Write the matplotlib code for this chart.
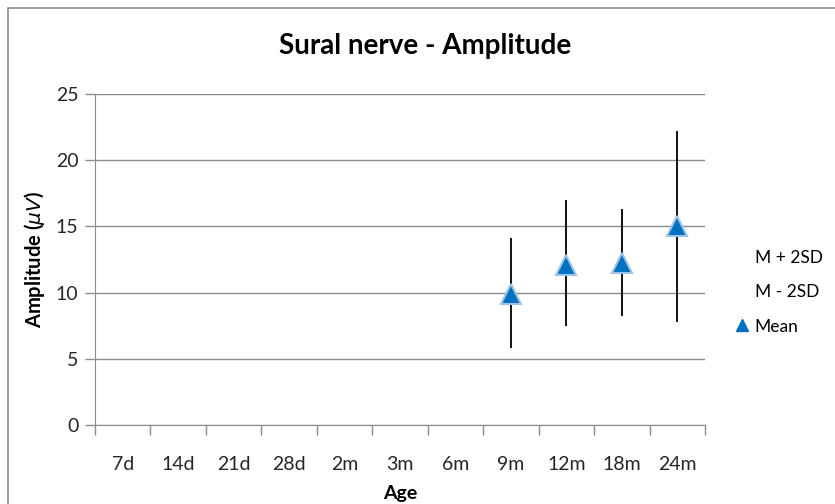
import numpy as np
import matplotlib.pyplot as plt
from matplotlib.lines import Line2D
from matplotlib.patches import Rectangle

plt.rcParams['font.family'] = ['Lato', 'DejaVu Sans']

ages = ['7d', '14d', '21d', '28d', '2m', '3m', '6m', '9m', '12m', '18m', '24m']
# only the last four age groups have data
mean = [np.nan] * 7 + [9.9, 12.1, 12.2, 15.0]
upper = [np.nan] * 7 + [14.1, 17.0, 16.3, 22.2]   # M + 2SD
lower = [np.nan] * 7 + [5.8, 7.5, 8.2, 7.8]       # M - 2SD

fig = plt.figure(figsize=(8.35, 5.04), dpi=100)
ax = fig.add_axes([0.1138, 0.1567, 0.7305, 0.6568])

# chart frame
fig.patches.append(Rectangle((8 / 835, -0.05), 1.0, 1 - 8 / 504 + 0.05,
                             transform=fig.transFigure, fill=False,
                             edgecolor='#8c8c8c', linewidth=1.2))

x = np.arange(len(ages))
m = np.array(mean)
up = np.array(upper)
lo = np.array(lower)
ax.vlines(x, lo, up, color='black', linewidth=1.3, zorder=3)
ax.plot(x, m, linestyle='none', marker='^', markersize=14,
        markerfacecolor='#0070C0', markeredgecolor='#9dc3e6',
        markeredgewidth=1.5, zorder=4)

ax.set_xlim(-0.5, len(ages) - 0.5)
ax.set_ylim(0, 25)
ax.set_yticks(np.arange(0, 26, 5))
ax.grid(axis='y', color='#8c8c8c', linewidth=1.0)
ax.set_axisbelow(True)

ax.set_xticks(x)
ax.set_xticklabels(ages)
ax.set_xticks(np.arange(-0.5, len(ages)), minor=True)
ax.tick_params(axis='x', which='major', length=0, pad=22, labelsize=14,
               colors='#262626')
ax.tick_params(axis='x', which='minor', length=7, color='#8c8c8c', width=1.0)
ax.tick_params(axis='y', length=7, color='#8c8c8c', width=1.0,
               labelsize=14, colors='#262626', pad=5)

for side in ['top', 'right']:
    ax.spines[side].set_visible(False)
ax.spines['left'].set_color('#8c8c8c')
ax.spines['bottom'].set_color('#8c8c8c')

ax.set_xlabel('Age', fontsize=14, fontweight='bold', labelpad=9)
ax.set_ylabel(r'Amplitude ($\mu V$)', fontsize=14.5, fontweight='bold',
              labelpad=6)
fig.suptitle('Sural nerve - Amplitude', x=0.509, y=0.935, fontsize=20,
             fontweight='bold')

handles = [
    Line2D([], [], linestyle='none'),
    Line2D([], [], linestyle='none'),
    Line2D([], [], linestyle='none', marker='^', markersize=8,
           markerfacecolor='#0070C0', markeredgecolor='#0070C0'),
]
fig.legend(handles, ['M + 2SD', 'M - 2SD', 'Mean'], loc='center left',
           bbox_to_anchor=(0.880, 0.42), frameon=False, fontsize=12.5,
           handlelength=0.8, handletextpad=0.35, labelspacing=1.05,
           borderaxespad=0, borderpad=0)

fig.savefig('out.png', dpi=100)
